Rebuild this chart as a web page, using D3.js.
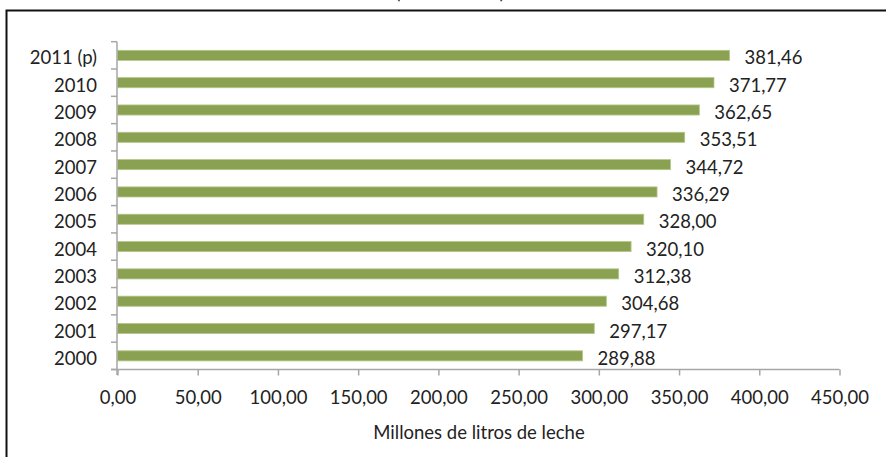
<!DOCTYPE html>
<html><head><meta charset="utf-8">
<script src="https://cdn.jsdelivr.net/npm/d3@7"></script>
<style>
html,body{margin:0;padding:0;background:#fff;}
svg{display:block;}
text{font-family:Lato,"Open Sans",sans-serif;fill:#222;}
</style></head>
<body>
<svg id="chart" width="886" height="457"></svg>
<script>
const categories = ["2000","2001","2002","2003","2004","2005","2006","2007","2008","2009","2010","2011 (p)"];
const values = [289.88,297.17,304.68,312.38,320.10,328.00,336.29,344.72,353.51,362.65,371.77,381.46];
const xTicks = [0,50,100,150,200,250,300,350,400,450];
const axisTitle = "Millones de litros de leche";
const topTitle = "(2000 - 2011)";

const svg = d3.select("#chart");
const fmt = v => d3.format(".2f")(v).replace(".", ",");
const fs = "18.5px";

// frame
svg.append("rect").attr("x",6.5).attr("y",10.5).attr("width",900).attr("height",500)
  .attr("fill","none").attr("stroke","#111").attr("stroke-width",2);
svg.append("text").attr("x",450).attr("y",-1).attr("text-anchor","middle")
  .style("font-size","18px").text(topTitle);

const x = d3.scaleLinear().domain([0,450]).range([117.5,839.5]);
const y = d3.scaleBand().domain(categories.slice().reverse()).range([41.7,369.5])
  .paddingInner(0.63).paddingOuter(0.315);

const axisColor = "#a6a6a6";
const g = svg.append("g");

// bars
g.selectAll("rect.bar").data(values).join("rect").attr("class","bar")
  .attr("x", x(0)).attr("y",(d,i)=>y(categories[i]))
  .attr("width", d=>x(d)-x(0)).attr("height", y.bandwidth())
  .attr("fill","#8ba152").attr("stroke","#b5c88a").attr("stroke-width",0.8);

// value labels
g.selectAll("text.val").data(values).join("text").attr("class","val")
  .attr("x", d=>x(d)+15).attr("y",(d,i)=>y(categories[i])+y.bandwidth()/2+2)
  .attr("dominant-baseline","central").style("font-size",fs).text(d=>fmt(d));

// x axis
const xAxis = d3.axisBottom(x).tickValues(xTicks).tickFormat(fmt).tickSize(6).tickPadding(15);
const xa = g.append("g").attr("transform","translate(0,369.5)").call(xAxis);
xa.select(".domain").attr("stroke",axisColor).attr("stroke-width",1.5).attr("d","M111,0H839.5");
xa.selectAll(".tick line").attr("stroke",axisColor).attr("stroke-width",1.5);
xa.selectAll(".tick text").style("font-size",fs).attr("fill","#222").style("font-family","Lato");

// y axis
const boundaries = d3.range(categories.length+1).map(i=>41.7+i*(369.5-41.7)/categories.length);
g.append("line").attr("x1",117).attr("x2",117).attr("y1",41.7).attr("y2",375)
  .attr("stroke",axisColor).attr("stroke-width",1.5);
g.selectAll("line.ytick").data(boundaries).join("line").attr("class","ytick")
  .attr("x1",111).attr("x2",117).attr("y1",d=>d).attr("y2",d=>d)
  .attr("stroke",axisColor).attr("stroke-width",1.5);
g.selectAll("text.cat").data(categories).join("text").attr("class","cat")
  .attr("x",97).attr("y",d=>y(d)+y.bandwidth()/2+2)
  .attr("text-anchor","end").attr("dominant-baseline","central")
  .style("font-size",fs).text(d=>d);

// axis title
svg.append("text").attr("x",479).attr("y",432).attr("text-anchor","middle")
  .attr("dominant-baseline","central").style("font-size",fs).text(axisTitle);
</script>
</body></html>
